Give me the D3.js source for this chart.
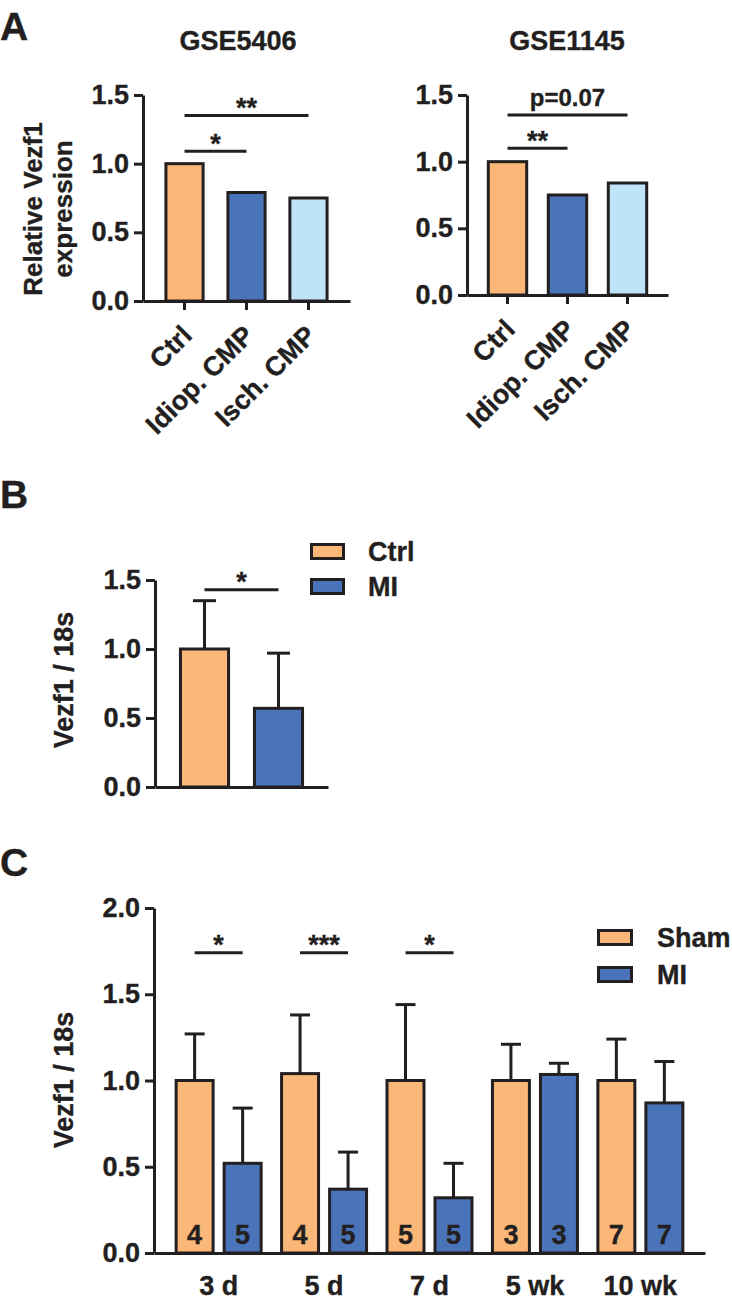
<!DOCTYPE html>
<html><head><meta charset="utf-8">
<script src="https://cdn.jsdelivr.net/npm/d3@7"></script>
<style>
body{margin:0;background:#fff}
svg{display:block}
text{font-family:"Liberation Sans",Arial,Helvetica,sans-serif;font-weight:bold;fill:#231f20;stroke:#231f20;stroke-width:0.35px}
</style>
</head><body>
<svg id="chart" width="732" height="1305"></svg>
<script>
// ---------- Panel A data ----------
const aCategories = ["Ctrl", "Idiop. CMP", "Isch. CMP"];
const gse5406Values = [1.0, 0.79, 0.75];
const gse1145Values = [1.0, 0.75, 0.84];
const aTicks = [0, 0.5, 1.0, 1.5];
const gse5406Sig = [
  {from: "Ctrl", to: "Idiop. CMP", level: 1.09, label: "*"},
  {from: "Ctrl", to: "Isch. CMP", level: 1.35, label: "**"}
];
const gse1145Sig = [
  {from: "Ctrl", to: "Idiop. CMP", level: 1.10, label: "**"},
  {from: "Ctrl", to: "Isch. CMP", level: 1.35, label: "p=0.07"}
];

// ---------- Panel B data ----------
const bCategories = ["Ctrl", "MI"];
const bMeans = [1.0, 0.57];
const bSD = [0.35, 0.40];
const bTicks = [0, 0.5, 1.0, 1.5];
const bSig = [{from: "Ctrl", to: "MI", level: 1.43, label: "*"}];

// ---------- Panel C data ----------
const cGroups = ["3 d", "5 d", "7 d", "5 wk", "10 wk"];
const cSeries = ["Sham", "MI"];
const shamMeans = [1.0, 1.04, 1.0, 1.0, 1.0];
const shamSD = [0.27, 0.34, 0.44, 0.21, 0.24];
const shamN = [4, 4, 5, 3, 7];
const miMeans = [0.52, 0.37, 0.32, 1.035, 0.87];
const miSD = [0.32, 0.215, 0.20, 0.065, 0.24];
const miN = [5, 5, 5, 3, 7];
const cTicks = [0, 0.5, 1.0, 1.5, 2.0];
const cSig = [
  {group: "3 d", level: 1.74, label: "*"},
  {group: "5 d", level: 1.74, label: "***"},
  {group: "7 d", level: 1.74, label: "*"}
];

// ---------- styling ----------
const INK = "#231f20";
const ORANGE = "#fbb777";
const BLUE = "#4a74b9";
const LIGHTBLUE = "#bfe4f8";
const aColors = [ORANGE, BLUE, LIGHTBLUE];
const FS = 27;

const svg = d3.select("#chart");

function styleAxis(g) {
  g.attr("font-family", null).attr("font-size", null);
  g.select(".domain").attr("stroke", INK).attr("stroke-width", 3);
  g.selectAll(".tick line").attr("stroke", INK).attr("stroke-width", 3);
  g.selectAll(".tick text").attr("font-size", FS).attr("fill", INK);
}

function yAxis(y, ticks, x0) {
  const g = svg.append("g").attr("transform", `translate(${x0},0)`)
    .call(d3.axisLeft(y).tickValues(ticks).tickFormat(d3.format(".1f"))
      .tickSize(9).tickSizeOuter(0).tickPadding(5));
  styleAxis(g);
  return g;
}

function sigLines(list, cx, y) {
  list.forEach(s => {
    const x1 = cx(s.from), x2 = cx(s.to), yy = y(s.level);
    svg.append("line").attr("x1", x1).attr("x2", x2).attr("y1", yy).attr("y2", yy)
      .attr("stroke", INK).attr("stroke-width", 3);
    const isStar = /^\*+$/.test(s.label);
    svg.append("text").attr("x", (x1 + x2) / 2)
      .attr("y", isStar ? yy + 1.5 : yy - 9)
      .attr("text-anchor", "middle")
      .attr("font-size", isStar ? FS : 24)
      .text(s.label);
  });
}

// ---------- Panel A ----------
function panelA(values, sig, title, titleX, x0, x1, y0, y1, po, pi) {
  const x = d3.scaleBand().domain(aCategories).range([x0, x1]).paddingInner(pi).paddingOuter(po);
  const y = d3.scaleLinear().domain([0, 1.5]).range([y0, y1]);
  const cx = c => x(c) + x.bandwidth() / 2;

  svg.append("text").attr("x", titleX).attr("y", 50).attr("text-anchor", "middle")
    .attr("font-size", FS).text(title);

  svg.selectAll(null).data(values).enter().append("rect")
    .attr("x", (d, i) => x(aCategories[i]))
    .attr("y", d => y(d))
    .attr("width", x.bandwidth())
    .attr("height", d => y(0) - y(d))
    .attr("fill", (d, i) => aColors[i])
    .attr("stroke", INK).attr("stroke-width", 3);

  yAxis(y, aTicks, x0);
  const gx = svg.append("g").attr("transform", `translate(0,${y0})`)
    .call(d3.axisBottom(x).tickSize(9).tickSizeOuter(0).tickFormat(""));
  styleAxis(gx);

  aCategories.forEach(c => {
    const ax = cx(c) + 9, ay = y0 + 36;
    svg.append("text").attr("transform", `translate(${ax},${ay}) rotate(-45)`)
      .attr("text-anchor", "end").attr("font-size", FS).text(c);
  });

  sigLines(sig, cx, y);
}

svg.append("text").attr("x", 0).attr("y", 40).attr("font-size", 39).text("A");
panelA(gse5406Values, gse5406Sig, "GSE5406", 238, 143, 350, 301, 95, 0.37, 0.4);
panelA(gse1145Values, gse1145Sig, "GSE1145", 567, 467, 668, 295, 95, 0.355, 0.36);

svg.append("text").attr("transform", "translate(42,209) rotate(-90)")
  .attr("text-anchor", "middle").attr("font-size", 26).text("Relative Vezf1");
svg.append("text").attr("transform", "translate(72,209) rotate(-90)")
  .attr("text-anchor", "middle").attr("font-size", 26).text("expression");

// ---------- Panel B ----------
(function () {
  svg.append("text").attr("x", 0).attr("y", 508).attr("font-size", 39).text("B");
  const x = d3.scaleBand().domain(bCategories).range([155, 328]).paddingInner(0.35).paddingOuter(0.344);
  const y = d3.scaleLinear().domain([0, 1.5]).range([787, 580]);
  const cx = c => x(c) + x.bandwidth() / 2;
  const colors = [ORANGE, BLUE];

  bMeans.forEach((m, i) => {
    const c = cx(bCategories[i]);
    svg.append("line").attr("x1", c).attr("x2", c).attr("y1", y(m)).attr("y2", y(m + bSD[i]))
      .attr("stroke", INK).attr("stroke-width", 3);
    svg.append("line").attr("x1", c - 11.5).attr("x2", c + 11.5).attr("y1", y(m + bSD[i])).attr("y2", y(m + bSD[i]))
      .attr("stroke", INK).attr("stroke-width", 3);
  });

  svg.selectAll(null).data(bMeans).enter().append("rect")
    .attr("x", (d, i) => x(bCategories[i]))
    .attr("y", d => y(d))
    .attr("width", x.bandwidth())
    .attr("height", d => y(0) - y(d))
    .attr("fill", (d, i) => colors[i])
    .attr("stroke", INK).attr("stroke-width", 3);

  yAxis(y, bTicks, 155);
  const gx = svg.append("g").attr("transform", "translate(0,787)")
    .call(d3.axisBottom(x).tickSize(0).tickSizeOuter(0).tickFormat(""));
  styleAxis(gx);

  sigLines(bSig, cx, y);

  svg.append("text").attr("transform", "translate(73,680) rotate(-90)")
    .attr("text-anchor", "middle").attr("font-size", FS).text("Vezf1 / 18s");

  bCategories.forEach((c, i) => {
    svg.append("rect").attr("x", 311.5).attr("y", 544.5 + i * 35).attr("width", 32).attr("height", 14)
      .attr("fill", colors[i]).attr("stroke", INK).attr("stroke-width", 3);
    svg.append("text").attr("x", 368).attr("y", 561 + i * 35).attr("font-size", FS).text(c);
  });
})();

// ---------- Panel C ----------
(function () {
  svg.append("text").attr("x", 0).attr("y", 876).attr("font-size", 39).text("C");
  const x0 = d3.scaleBand().domain(cGroups).range([154, 705]).paddingInner(0.194).paddingOuter(0.21);
  const x1 = d3.scaleBand().domain(cSeries).range([0, x0.bandwidth()]).paddingInner(0.23).paddingOuter(0);
  const y = d3.scaleLinear().domain([0, 2]).range([1253, 908]);
  const colors = {Sham: ORANGE, MI: BLUE};

  const rows = [];
  cGroups.forEach((g, i) => {
    rows.push({group: g, series: "Sham", mean: shamMeans[i], sd: shamSD[i], n: shamN[i]});
    rows.push({group: g, series: "MI", mean: miMeans[i], sd: miSD[i], n: miN[i]});
  });
  const bx = d => x0(d.group) + x1(d.series);
  const bc = d => bx(d) + x1.bandwidth() / 2;

  rows.forEach(d => {
    const c = bc(d), top = y(d.mean + d.sd);
    svg.append("line").attr("x1", c).attr("x2", c).attr("y1", y(d.mean)).attr("y2", top)
      .attr("stroke", INK).attr("stroke-width", 3);
    svg.append("line").attr("x1", c - 10).attr("x2", c + 10).attr("y1", top).attr("y2", top)
      .attr("stroke", INK).attr("stroke-width", 3);
  });

  svg.selectAll(null).data(rows).enter().append("rect")
    .attr("x", bx)
    .attr("y", d => y(d.mean))
    .attr("width", x1.bandwidth())
    .attr("height", d => y(0) - y(d.mean))
    .attr("fill", d => colors[d.series])
    .attr("stroke", INK).attr("stroke-width", 3);

  svg.selectAll(null).data(rows).enter().append("text")
    .attr("x", bc).attr("y", y(0) - 9).attr("text-anchor", "middle")
    .attr("font-size", FS).text(d => d.n);

  yAxis(y, cTicks, 154);
  const gx = svg.append("g").attr("transform", "translate(0,1253)")
    .call(d3.axisBottom(x0).tickSize(0).tickSizeOuter(0).tickPadding(23));
  styleAxis(gx);

  cSig.forEach(s => {
    const xa = x0(s.group) + x1("Sham") + x1.bandwidth() / 2;
    const xb = x0(s.group) + x1("MI") + x1.bandwidth() / 2;
    const yy = y(s.level);
    svg.append("line").attr("x1", xa).attr("x2", xb).attr("y1", yy).attr("y2", yy)
      .attr("stroke", INK).attr("stroke-width", 3);
    svg.append("text").attr("x", (xa + xb) / 2).attr("y", yy + 1.5).attr("text-anchor", "middle")
      .attr("font-size", FS).text(s.label);
  });

  svg.append("text").attr("transform", "translate(73,1080) rotate(-90)")
    .attr("text-anchor", "middle").attr("font-size", FS).text("Vezf1 / 18s");

  cSeries.forEach((c, i) => {
    svg.append("rect").attr("x", 598.5).attr("y", 930.5 + i * 37).attr("width", 33).attr("height", 14)
      .attr("fill", colors[c]).attr("stroke", INK).attr("stroke-width", 3);
    svg.append("text").attr("x", 657).attr("y", 947 + i * 37).attr("font-size", FS).text(c);
  });
})();
</script>
</body></html>
